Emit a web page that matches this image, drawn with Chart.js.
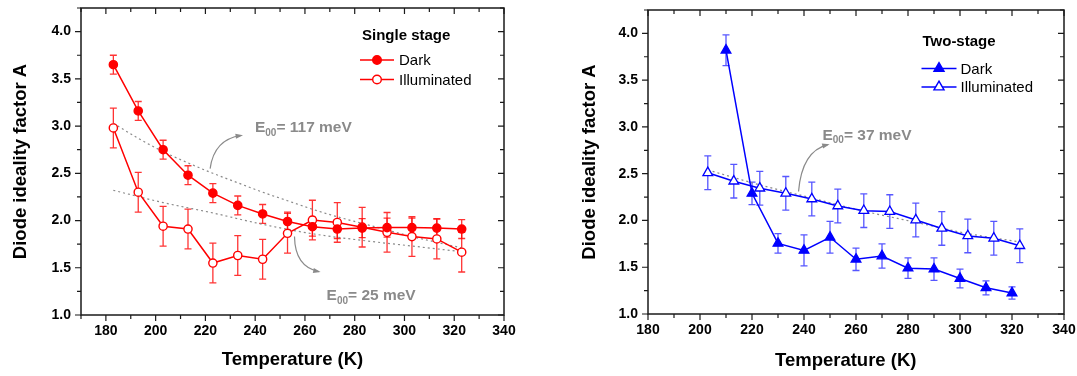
<!DOCTYPE html>
<html>
<head>
<meta charset="utf-8">
<script src="https://cdn.jsdelivr.net/npm/chart.js@4.4.0/dist/chart.umd.min.js"></script>
<style>
body { margin: 0; background: #fff; }
#wrap { position: relative; width: 1077px; height: 376px; }
canvas { position: absolute; top: 0; }
</style>
</head>
<body>
<div id="wrap">
  <canvas id="leftChart" width="540" height="376" style="left:0"></canvas>
  <canvas id="rightChart" width="537" height="376" style="left:540px"></canvas>
</div>
<script>
// ---- data ----
const xTicks = [180, 200, 220, 240, 260, 280, 300, 320, 340];
const yTicks = [1.0, 1.5, 2.0, 2.5, 3.0, 3.5, 4.0];

// single stage
const singleT = [183, 193, 203, 213, 223, 233, 243, 253, 263, 273, 283, 293, 303, 313, 323];
const singleDark = [3.65, 3.16, 2.75, 2.48, 2.29, 2.16, 2.07, 1.99, 1.935, 1.91, 1.92, 1.925, 1.925, 1.92, 1.91];
const singleDarkErr = [0.10, 0.10, 0.10, 0.10, 0.10, 0.10, 0.10, 0.10, 0.10, 0.10, 0.10, 0.10, 0.10, 0.10, 0.10];
const singleIllum = [2.98, 2.30, 1.94, 1.91, 1.55, 1.63, 1.59, 1.865, 2.005, 1.98, 1.93, 1.875, 1.83, 1.805, 1.665];
const singleIllumErr = [0.21, 0.21, 0.21, 0.21, 0.21, 0.21, 0.21, 0.21, 0.21, 0.21, 0.21, 0.21, 0.21, 0.21, 0.21];
// dotted fits
const fit117T = [183, 193, 203, 213, 223, 233, 243, 253, 263, 273, 283, 293, 303, 313, 323];
const fit117 = [3.03, 2.87, 2.73, 2.61, 2.50, 2.40, 2.30, 2.21, 2.12, 2.04, 1.97, 1.90, 1.83, 1.77, 1.71];
const fit25T = [183, 203, 223, 243, 263, 283, 303, 323];
const fit25 = [2.32, 2.19, 2.08, 1.96, 1.86, 1.79, 1.73, 1.67];

// two-stage
const twoDarkT = [210, 220, 230, 240, 250, 260, 270, 280, 290, 300, 310, 320];
const twoDark = [3.82, 2.29, 1.755, 1.68, 1.82, 1.585, 1.62, 1.49, 1.48, 1.38, 1.28, 1.225];
const twoDarkErr = [0.165, 0.12, 0.105, 0.165, 0.17, 0.12, 0.13, 0.11, 0.12, 0.10, 0.075, 0.065];
const twoIllumT = [203, 213, 223, 233, 243, 253, 263, 273, 283, 293, 303, 313, 323];
const twoIllum = [2.51, 2.42, 2.345, 2.29, 2.23, 2.155, 2.105, 2.095, 2.005, 1.915, 1.835, 1.81, 1.73];
const twoIllumErr = [0.18, 0.18, 0.18, 0.18, 0.18, 0.18, 0.18, 0.18, 0.18, 0.18, 0.18, 0.18, 0.18];
const fit37T = [203, 223, 243, 263, 283, 303, 323];
const fit37 = [2.54, 2.38, 2.24, 2.10, 1.98, 1.86, 1.77];

const RED = "#ff0000";
const BLUE = "#0000ff";
const GREY = "#8a8a8a";
const FONT = "Arial, 'Liberation Sans', sans-serif";

function pts(xs, ys) {
    return xs.map((v, i) => ({ x: v, y: ys[i] }));
}

// error bars drawn behind the lines, through the scales
const errorBars = {
    id: "errorBars",
    beforeDatasetsDraw(chart) {
        const { ctx, scales: { x, y } } = chart;
        ctx.save();
        chart.data.datasets.forEach((ds) => {
            if (!ds.errors) return;
            ctx.strokeStyle = ds.errorColor;
            ctx.lineWidth = 1.3;
            ds.data.forEach((p, j) => {
                const px = x.getPixelForValue(p.x);
                const top = y.getPixelForValue(p.y + ds.errors[j]);
                const bot = y.getPixelForValue(p.y - ds.errors[j]);
                ctx.beginPath();
                ctx.moveTo(px, top); ctx.lineTo(px, bot);
                ctx.moveTo(px - 3.5, top); ctx.lineTo(px + 3.5, top);
                ctx.moveTo(px - 3.5, bot); ctx.lineTo(px + 3.5, bot);
                ctx.stroke();
            });
        });
        ctx.restore();
    }
};

// box with ticks on all four sides (out on left/bottom, in on top/right)
const frame = {
    id: "frame",
    afterDatasetsDraw(chart) {
        const { ctx, chartArea: a, scales: { x, y } } = chart;
        ctx.save();
        ctx.strokeStyle = "#1a1a1a";
        ctx.lineWidth = 1.5;
        ctx.strokeRect(a.left, a.top, a.right - a.left, a.bottom - a.top);
        ctx.lineWidth = 1.2;
        ctx.beginPath();
        for (let v = Math.ceil(x.min / 10) * 10; v <= x.max; v += 10) {
            const px = x.getPixelForValue(v);
            const len = v % 20 === 0 ? 6 : 4;
            ctx.moveTo(px, a.bottom); ctx.lineTo(px, a.bottom + len);
            ctx.moveTo(px, a.top); ctx.lineTo(px, a.top + len);
        }
        for (let v = 1.0; v <= y.max + 1e-9; v += 0.25) {
            const py = y.getPixelForValue(v);
            const len = Math.abs(v * 2 - Math.round(v * 2)) < 1e-6 ? 6 : 4;
            ctx.moveTo(a.left, py); ctx.lineTo(a.left - len, py);
            ctx.moveTo(a.right, py); ctx.lineTo(a.right - len, py);
        }
        ctx.stroke();
        ctx.restore();
    }
};

function drawMarker(ctx, shape, x, y, r, color, filled) {
    ctx.beginPath();
    if (shape === "circle") {
        ctx.arc(x, y, r, 0, Math.PI * 2);
    } else {
        ctx.moveTo(x, y - r);
        ctx.lineTo(x + r * 0.866, y + r * 0.5);
        ctx.lineTo(x - r * 0.866, y + r * 0.5);
        ctx.closePath();
    }
    ctx.fillStyle = filled ? color : "#fff";
    ctx.fill();
    ctx.strokeStyle = color;
    ctx.lineWidth = 1.4;
    ctx.stroke();
}

// legend box
const key = {
    id: "key",
    afterDraw(chart, args, o) {
        const ctx = chart.ctx;
        ctx.save();
        ctx.textBaseline = "middle";
        ctx.fillStyle = "#000";
        ctx.font = "bold 15px " + FONT;
        ctx.fillText(o.title, o.titleX, o.titleY);
        o.rows.forEach((row) => {
            ctx.strokeStyle = o.color;
            ctx.lineWidth = 1.5;
            ctx.beginPath();
            ctx.moveTo(o.lineX0, row.y); ctx.lineTo(o.lineX1, row.y);
            ctx.stroke();
            drawMarker(ctx, o.shape, (o.lineX0 + o.lineX1) / 2, row.y, o.shape === "circle" ? 4.3 : 5.8, o.color, row.filled);
            ctx.fillStyle = "#000";
            ctx.font = "15px " + FONT;
            ctx.fillText(row.text, o.textX, row.y + 1);
        });
        ctx.restore();
    }
};

// curved grey arrows and E00 labels, anchored in data units
const notes = {
    id: "notes",
    afterDraw(chart, args, o) {
        const { ctx, scales: { x, y } } = chart;
        ctx.save();
        ctx.strokeStyle = GREY;
        ctx.fillStyle = GREY;
        ctx.lineWidth = 1.2;
        (o.arrows || []).forEach((ar) => {
            const p0 = [x.getPixelForValue(ar.from[0]), y.getPixelForValue(ar.from[1])];
            const c = [x.getPixelForValue(ar.ctrl[0]), y.getPixelForValue(ar.ctrl[1])];
            const p1 = [x.getPixelForValue(ar.to[0]), y.getPixelForValue(ar.to[1])];
            ctx.beginPath();
            ctx.moveTo(p0[0], p0[1]);
            ctx.quadraticCurveTo(c[0], c[1], p1[0], p1[1]);
            ctx.stroke();
            const ang = Math.atan2(p1[1] - c[1], p1[0] - c[0]);
            ctx.beginPath();
            ctx.moveTo(p1[0] + 2 * Math.cos(ang), p1[1] + 2 * Math.sin(ang));
            ctx.lineTo(p1[0] - 6 * Math.cos(ang - 0.45), p1[1] - 6 * Math.sin(ang - 0.45));
            ctx.lineTo(p1[0] - 6 * Math.cos(ang + 0.45), p1[1] - 6 * Math.sin(ang + 0.45));
            ctx.closePath();
            ctx.fill();
        });
        ctx.textBaseline = "middle";
        (o.labels || []).forEach((lb) => {
            let px = x.getPixelForValue(lb.at[0]);
            const py = y.getPixelForValue(lb.at[1]);
            ctx.font = "bold 15.5px " + FONT;
            ctx.fillText("E", px, py);
            px += ctx.measureText("E").width;
            ctx.font = "bold 10px " + FONT;
            ctx.fillText("00", px, py + 5);
            px += ctx.measureText("00").width;
            ctx.font = "bold 15.5px " + FONT;
            ctx.fillText(lb.text, px, py);
        });
        ctx.restore();
    }
};

function makeChart(id, cfg) {
    const tickFont = { family: FONT, size: 14, weight: "bold" };
    const titleFont = { family: FONT, size: 18.5, weight: "bold" };
    return new Chart(document.getElementById(id), {
        type: "line",
        data: { datasets: cfg.datasets },
        plugins: [errorBars, frame, key, notes],
        options: {
            responsive: false,
            animation: false,
            devicePixelRatio: 1,
            layout: { padding: { top: cfg.padTop, right: cfg.padRight, left: 0, bottom: 0 } },
            elements: { line: { tension: 0 } },
            plugins: {
                legend: { display: false },
                tooltip: { enabled: false },
                key: cfg.key,
                notes: cfg.notes
            },
            scales: {
                x: {
                    type: "linear",
                    min: cfg.xMin,
                    max: 340,
                    grid: { display: false, drawTicks: false },
                    border: { display: false },
                    afterBuildTicks: (s) => { s.ticks = xTicks.map((v) => ({ value: v })); },
                    afterFit: (s) => { s.height = 376 - cfg.bottom; s.paddingLeft = 0; s.paddingRight = 0; },
                    ticks: { font: tickFont, color: "#000", padding: 8, maxRotation: 0 },
                    title: { display: true, text: cfg.xTitle, font: titleFont, color: "#000", padding: { top: 0, bottom: cfg.xTitlePad } }
                },
                y: {
                    type: "linear",
                    min: 1.0,
                    max: 4.25,
                    grid: { display: false, drawTicks: false },
                    border: { display: false },
                    afterBuildTicks: (s) => { s.ticks = yTicks.map((v) => ({ value: v })); },
                    afterFit: (s) => { s.width = cfg.axisLeft; s.paddingTop = 0; s.paddingBottom = 0; },
                    ticks: { font: tickFont, color: "#000", padding: 10, callback: (v) => v.toFixed(1) },
                    title: { display: true, text: "Diode ideality factor A", font: titleFont, color: "#000", padding: { top: cfg.yTitlePad, bottom: 0 } }
                }
            }
        }
    });
}

const fitStyle = { borderColor: GREY, borderWidth: 1.2, borderDash: [2, 3], pointRadius: 0, cubicInterpolationMode: "monotone", order: 5 };

makeChart("leftChart", {
    xMin: 170, padTop: 8, padRight: 36, bottom: 315, axisLeft: 81, xTitlePad: 5, yTitlePad: 9.5,
    xTitle: "Temperature (K)",
    datasets: [
        Object.assign({ data: pts(fit117T, fit117) }, fitStyle),
        Object.assign({ data: pts(fit25T, fit25) }, fitStyle),
        {
            label: "Dark", data: pts(singleT, singleDark), errors: singleDarkErr, errorColor: "rgba(255,0,0,0.8)",
            borderColor: RED, backgroundColor: RED, borderWidth: 1.5,
            pointStyle: "circle", pointRadius: 4.1, pointBorderWidth: 1.4, pointBackgroundColor: RED, order: 1
        },
        {
            label: "Illuminated", data: pts(singleT, singleIllum), errors: singleIllumErr, errorColor: "rgba(255,0,0,0.8)",
            borderColor: RED, backgroundColor: "#fff", borderWidth: 1.5,
            pointStyle: "circle", pointRadius: 4.1, pointBorderWidth: 1.4, pointBackgroundColor: "#fff", order: 2
        }
    ],
    key: {
        title: "Single stage", titleX: 362, titleY: 36, color: RED, shape: "circle",
        lineX0: 360, lineX1: 394, textX: 399,
        rows: [{ text: "Dark", y: 60, filled: true }, { text: "Illuminated", y: 79.5, filled: false }]
    },
    notes: {
        arrows: [
            { from: [221.9, 2.55], ctrl: [223.5, 2.86], to: [234.3, 2.90] },
            { from: [255.8, 1.83], ctrl: [256.0, 1.51], to: [265.5, 1.46] }
        ],
        labels: [
            { at: [239.9, 2.98], text: "= 117 meV" },
            { at: [268.7, 1.20], text: "= 25 meV" }
        ]
    }
});

makeChart("rightChart", {
    xMin: 180, padTop: 10, padRight: 13, bottom: 314, axisLeft: 108, xTitlePad: 3.5, yTitlePad: 38.5,
    xTitle: "Temperature (K)    ",
    datasets: [
        Object.assign({ data: pts(fit37T, fit37) }, fitStyle),
        {
            label: "Dark", data: pts(twoDarkT, twoDark), errors: twoDarkErr, errorColor: "rgba(30,30,255,0.75)",
            borderColor: BLUE, backgroundColor: BLUE, borderWidth: 1.5,
            pointStyle: "triangle", pointRadius: 5.6, pointBorderWidth: 1.3, pointBackgroundColor: BLUE, order: 1
        },
        {
            label: "Illuminated", data: pts(twoIllumT, twoIllum), errors: twoIllumErr, errorColor: "rgba(30,30,255,0.75)",
            borderColor: BLUE, backgroundColor: "#fff", borderWidth: 1.5,
            pointStyle: "triangle", pointRadius: 5.6, pointBorderWidth: 1.3, pointBackgroundColor: "#fff", order: 2
        }
    ],
    key: {
        title: "Two-stage", titleX: 382.5, titleY: 41.5, color: BLUE, shape: "triangle",
        lineX0: 381.5, lineX1: 416.5, textX: 420.5,
        rows: [{ text: "Dark", y: 68.5, filled: true }, { text: "Illuminated", y: 87, filled: false }]
    },
    notes: {
        arrows: [
            { from: [237.9, 2.31], ctrl: [239.2, 2.74], to: [249.1, 2.81] }
        ],
        labels: [
            { at: [247.1, 2.91], text: "= 37 meV" }
        ]
    }
});
</script>
</body>
</html>
